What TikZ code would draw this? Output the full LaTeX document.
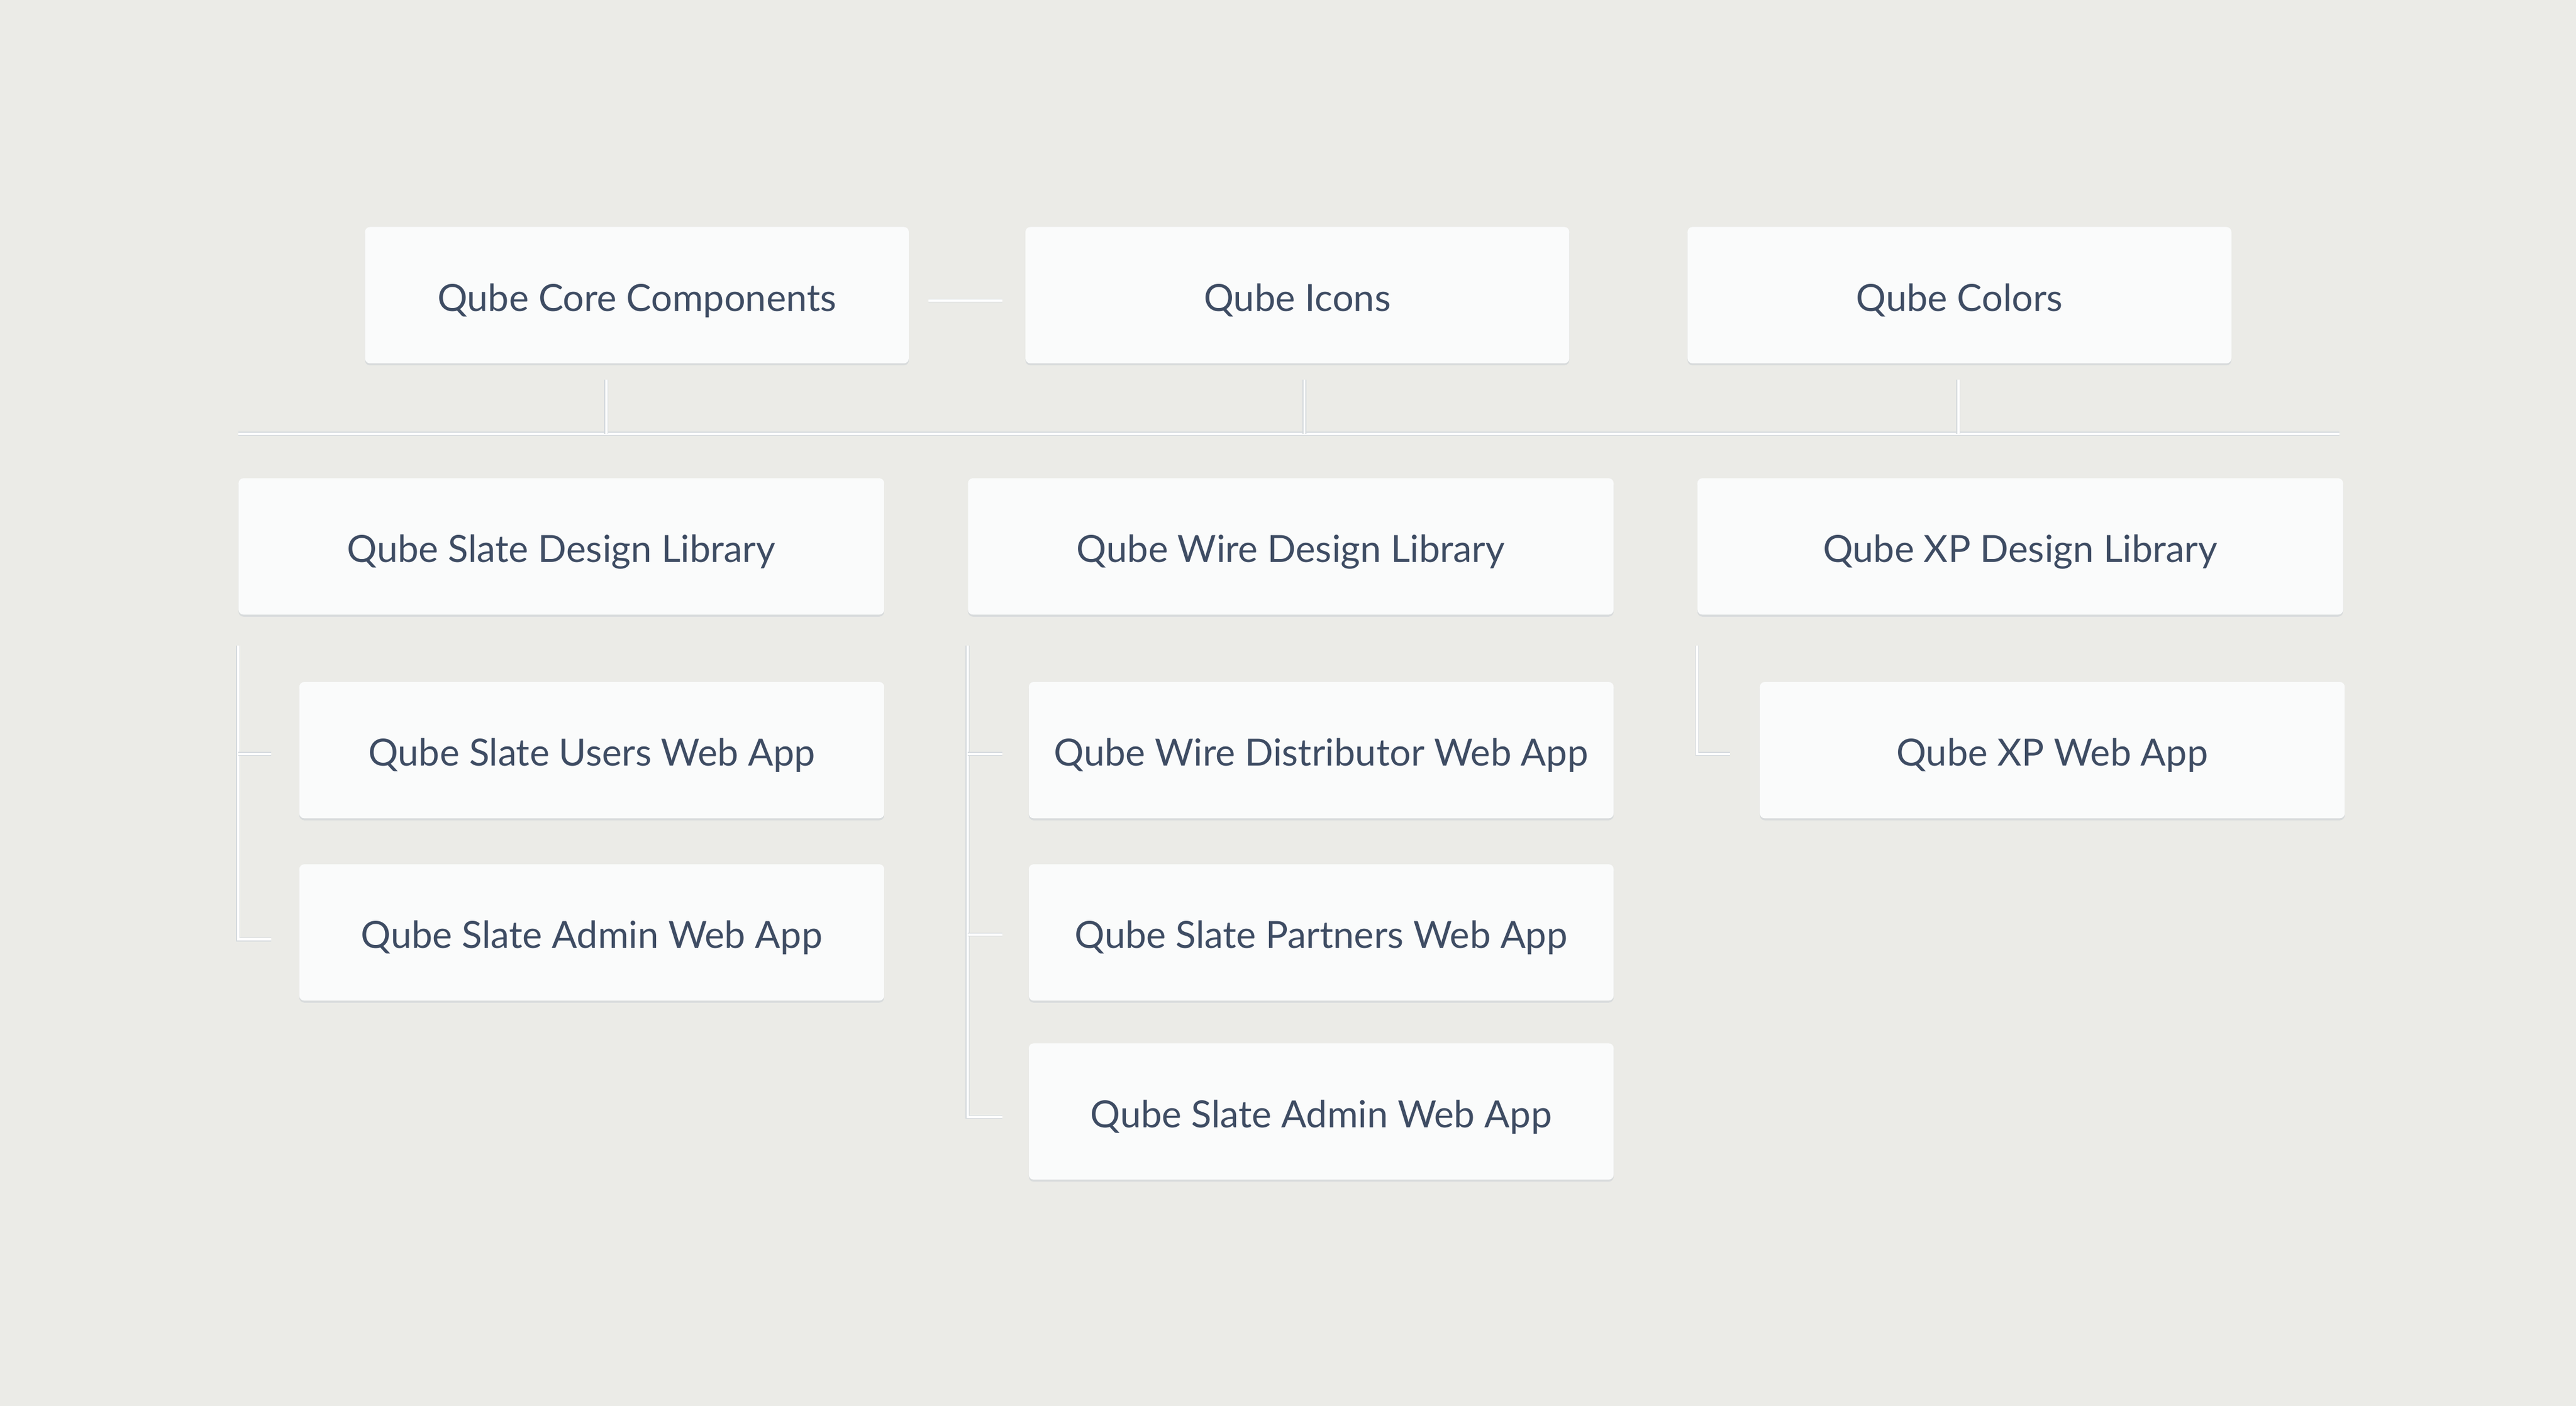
\documentclass[tikz,border=0pt]{standalone}
\usepackage{fontspec}
\setmainfont{Lato}
\definecolor{bgc}{RGB}{235,235,231}
\definecolor{boxc}{RGB}{250,251,251}
\definecolor{shadc}{RGB}{216,219,220}
\definecolor{linec}{RGB}{212,217,221}
\definecolor{txtc}{RGB}{62,76,99}
\tikzset{
  card/.style={anchor=north west, rectangle, rounded corners=3pt, fill=boxc,
    minimum height=83pt, inner sep=0pt, text=txtc,
    text height=19.5pt, text depth=0pt,
    font=\fontsize{22.8}{27}\selectfont,
    preaction={fill=shadc, transform canvas={yshift=-1.2pt}}},
  topcard/.style={card, minimum width=331pt},
  libcard/.style={card, minimum width=393pt},
  appcard/.style={card, minimum width=356pt},
  link/.style={draw=linec, line width=0.5pt, double=white, double distance=1.4pt}
}
\begin{document}
\begin{tikzpicture}[x=1pt,y=-1pt]
\fill[bgc] (0,0) rectangle (1568,856);
\useasboundingbox (0,0) rectangle (1568,856);

% top row
\node[topcard] (core)   at (222,138) {Qube Core Components};
\node[topcard] (icons)  at (624,138) {Qube Icons};
\node[topcard] (colors) at (1027,138) {Qube Colors};

% design libraries
\node[libcard] (slate) at (145,291) {Qube Slate Design Library};
\node[libcard] (wire)  at (589,291) {Qube Wire Design Library};
\node[libcard] (xp)    at (1033,291) {Qube XP Design Library};

% apps
\node[appcard] (slusers)  at (182,415) {Qube Slate Users Web App};
\node[appcard] (sladmin)  at (182,526) {Qube Slate Admin Web App};
\node[appcard] (wdist)    at (626,415) {Qube Wire Distributor Web App};
\node[appcard] (wpart)    at (626,526) {Qube Slate Partners Web App};
\node[appcard] (wadmin)   at (626,635) {Qube Slate Admin Web App};
\node[appcard] (xpweb)    at (1071,415) {Qube XP Web App};

% coordinates for connector ends
\coordinate (ci1) at (565,183);
\coordinate (ci2) at (610,183);
\coordinate (busL) at (145,264);
\coordinate (busR) at (1424,264);
\coordinate (s1) at (369,231);
\coordinate (s2) at (794,231);
\coordinate (s3) at (1192,231);
\coordinate (b1) at (369,264);
\coordinate (b2) at (794,264);
\coordinate (b3) at (1192,264);

\coordinate (sv) at (145,393);
\coordinate (st1) at (165,459);
\coordinate (st2) at (165,572);
\coordinate (wv) at (589,393);
\coordinate (wt1) at (610,459);
\coordinate (wt2) at (610,569);
\coordinate (wt3) at (610,680);
\coordinate (xv) at (1033,393);
\coordinate (xt1) at (1053,459);

% connectors
\draw[link] (ci1) -- (ci2);
\draw[link] (busL) -- (busR);
\draw[link] (s1) -- (b1);
\draw[link] (s2) -- (b2);
\draw[link] (s3) -- (b3);

\draw[link] (sv) |- (st2);
\draw[link] (sv |- st1) -- (st1);
\draw[link] (wv) |- (wt3);
\draw[link] (wv |- wt1) -- (wt1);
\draw[link] (wv |- wt2) -- (wt2);
\draw[link] (xv) |- (xt1);
\end{tikzpicture}
\end{document}
